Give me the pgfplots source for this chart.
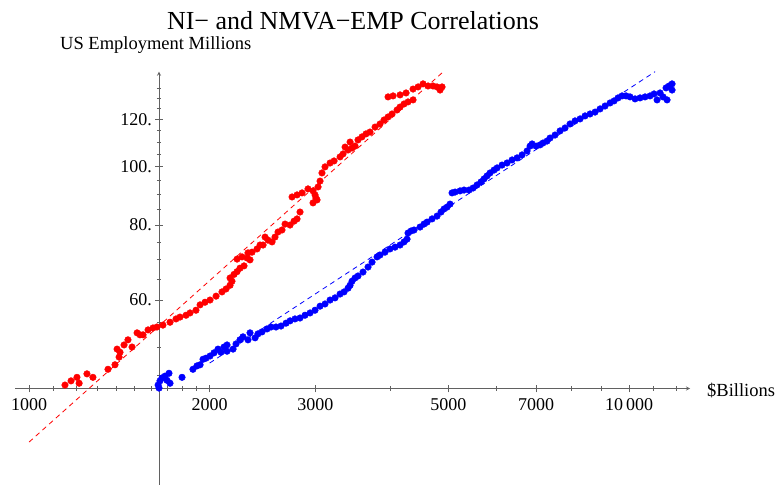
\documentclass[border=0pt]{standalone}
\usepackage{fontspec}
\setmainfont{Liberation Serif}
\usepackage{pgfplots}
\usepackage{pgfplotstable}
\pgfplotsset{compat=1.18}
\definecolor{axc}{gray}{0.38}

\pgfplotstableread{
x y
1148 43.3
1175 44.0
1202 44.6
1212 43.6
1249 45.2
1278 44.6
1354 46.0
1391 46.8
1402 49.7
1413 48.2
1418 49.1
1440 50.5
1462 51.5
1485 50.1
1514 52.9
1531 52.5
1549 52.5
1579 53.5
1609 53.9
1634 54.1
1672 54.5
1718 55.1
1758 55.8
1785 56.2
1827 56.6
1855 57.1
1898 57.7
1928 58.9
1965 59.5
2003 60.0
2050 60.9
2097 61.9
2130 62.6
2163 63.5
2179 64.5
2163 65.3
2196 66.2
2222 66.9
2247 67.8
2282 68.4
2222 70.2
2265 70.8
2309 70.5
2335 70.0
2317 71.9
2353 72.1
2399 73.0
2427 74.1
2455 74.1
2474 76.4
2502 75.5
2541 75.0
2570 76.4
2600 77.9
2640 78.5
2671 80.3
2723 80.0
2765 81.2
2797 81.9
2829 84.1
2744 89.1
2797 89.8
2851 90.5
2917 91.9
2974 91.2
2997 89.8
3008 88.7
2974 87.1
3020 88.1
3032 92.6
3055 94.7
3078 97.7
3114 100.0
3175 101.5
3224 102.3
3299 103.9
3337 105.1
3363 107.9
3402 106.7
3428 110.0
3454 107.5
3494 108.3
3534 110.9
3589 112.2
3645 113.5
3701 114.3
3773 116.5
3846 117.9
3905 119.7
3966 121.1
4027 122.5
4105 124.4
4153 125.8
4217 127.3
4282 128.3
4365 129.3
3966 130.8
4043 131.3
4153 131.8
4250 132.8
4365 134.8
4450 135.9
4536 137.5
4624 136.4
4713 136.4
4786 135.9
4879 135.9
4842 134.3
}\redtable

\pgfplotstableread{
x y
1641 43.3
1647 42.8
1653 44.0
1666 44.5
1685 44.8
1698 44.1
1711 45.3
1718 43.6
1799 44.6
1876 46.0
1905 46.6
1928 46.8
1950 47.8
1972 48.0
2003 48.4
2034 49.0
2065 49.7
2089 49.1
2113 50.1
2138 50.5
2138 49.3
2188 49.7
2213 50.7
2247 51.5
2273 52.1
2317 51.5
2335 52.9
2381 51.9
2408 52.7
2445 53.1
2493 53.7
2531 54.1
2580 54.1
2630 54.3
2681 54.9
2723 55.4
2775 55.8
2829 56.0
2884 56.6
2940 57.1
2997 57.7
3055 58.6
3114 59.1
3175 60.0
3236 60.5
3299 61.4
3350 61.9
3402 62.8
3428 63.5
3454 64.5
3494 65.3
3534 65.8
3603 66.8
3673 68.1
3730 69.4
3802 70.8
3846 71.3
3920 72.1
3996 73.0
4074 73.5
4153 74.1
4217 75.0
4266 75.8
4282 77.6
4332 78.2
4382 78.5
4484 79.4
4553 80.3
4606 80.9
4695 81.9
4786 82.8
4860 84.1
4917 85.1
4974 85.7
5031 86.7
5070 90.5
5129 90.8
5228 91.2
5309 91.5
5412 91.5
5495 92.2
5580 93.3
5667 94.4
5732 95.5
5799 96.6
5866 97.7
5957 98.8
6026 99.6
6142 100.7
6261 101.5
6383 102.7
6506 103.5
6632 104.7
6761 106.3
6839 108.3
6892 109.2
6998 108.3
7107 108.8
7189 109.6
7300 110.4
7385 111.7
7528 113.0
7674 114.8
7822 116.1
7974 117.9
8128 119.3
8286 120.2
8446 121.6
8610 122.5
8777 123.4
8947 124.9
9120 126.3
9297 127.8
9441 128.8
9587 130.3
9735 131.3
9885 131.3
10039 130.8
10233 129.8
10431 130.3
10633 130.8
10840 131.3
11007 132.3
11135 129.3
11263 132.8
11394 130.8
11570 129.3
11525 135.4
11659 136.4
11794 137.5
11794 134.3
}\bluetable

\pgfplotsset{
  ovl/.style={
    scale only axis,
    tick align=inside,
    major tick length=7.5pt,
    minor tick length=4.5pt,
    every tick/.style={axc, line width=0.8pt},
    axis line style={axc, line width=0.8pt, -},
  },
}

\begin{document}
\begin{tikzpicture}[x=1pt,y=1pt]
\path[use as bounding box] (-15pt,0pt) rectangle (763pt,485pt);
% horizontal axis line with its ticks
\begin{axis}[ovl,
  at={(0pt,96.5pt)}, anchor=south west,
  width=675pt, height=316.8pt,
  xmode=log, xmin=947.7, xmax=12636, ymin=0, ymax=1,
  axis x line=bottom, axis y line=none,
  xtick={1000,2000,3000,5000,7000,10000},
  minor xtick={1100,1200,1300,1400,1500,1600,1700,1800,1900,4000,6000,8000,9000,11000,12000},
  xticklabels={}, ytick=\empty,
]
\end{axis}
% vertical axis line with its ticks
\begin{axis}[ovl,
  at={(144pt,0pt)}, anchor=south west,
  width=531pt, height=413.3pt,
  ymode=log, xmin=0, xmax=1, ymin=29.51, ymax=144.09,
  axis y line=left, axis x line=none,
  ytick={60,80,100,120},
  minor ytick={45,50,55,65,70,75,85,90,95,105,110,115,125,130,135},
  yticklabels={}, xtick=\empty,
]
\end{axis}
% data
\begin{axis}[
  at={(0pt,0pt)}, anchor=south west,
  scale only axis, width=675pt, height=413.3pt,
  xmode=log, ymode=log,
  xmin=947.7, xmax=12636, ymin=29.51, ymax=144.09,
  axis lines=none,
  after end axis/.code={
    \foreach \t/\l in {1000/1000,2000/2000,3000/3000,5000/5000,7000/7000,10000/10\,000}
      \node[anchor=base, inner sep=0pt, font=\fontsize{18}{20}\selectfont]
        at ([yshift=-22pt]axis cs:\t,42.72) {\l};
    \foreach \t in {60,80,100,120}
      \node[anchor=east, inner sep=0pt, font=\fontsize{18}{20}\selectfont]
        at ([xshift=-7pt]axis cs:1646.7,\t) {\t.};
  },
]
\addplot[red, only marks, mark=*, mark size=3.3pt, mark options={draw=red, fill=red}] table[x=x,y=y] {\redtable};
\addplot[blue, only marks, mark=*, mark size=3.3pt, mark options={draw=blue, fill=blue}] table[x=x,y=y] {\bluetable};
\addplot[red, line width=0.8pt, dash pattern=on 5pt off 4pt] coordinates {(1000,34.79) (4904,144.09)};
\addplot[blue, line width=0.8pt, dash pattern=on 5pt off 4pt] coordinates {(2000,47.11) (11050,144.09)};
\end{axis}
\node[anchor=base, inner sep=0pt, font=\fontsize{26}{28}\selectfont] at (338pt,455.7pt) {NI− and NMVA−EMP Correlations};
\node[anchor=base west, inner sep=0pt, font=\fontsize{18.5}{20}\selectfont] at (45pt,435pt) {US Employment Millions};
\node[anchor=base west, inner sep=0pt, font=\fontsize{18.5}{20}\selectfont] at (692pt,89pt) {\$Billions};
\end{tikzpicture}
\end{document}
